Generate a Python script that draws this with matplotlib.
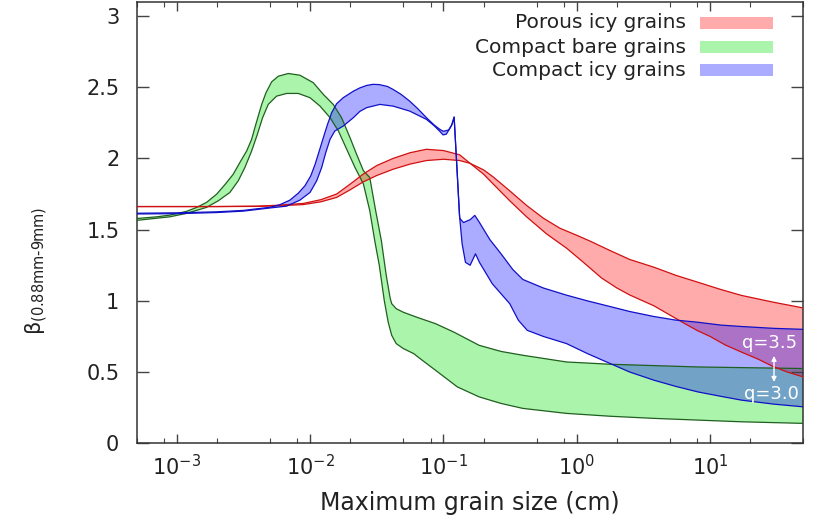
import numpy as np
import matplotlib
matplotlib.use("Agg")
import matplotlib.pyplot as plt
from matplotlib.ticker import LogLocator, NullFormatter
from matplotlib.patches import Rectangle

# ---------------- data ----------------
series_names = ["Porous icy grains", "Compact bare grains", "Compact icy grains"]

# Compact bare grains (green) - two bounding curves
green_a_x = [5e-4, 7.08e-4, 8.87e-4, 1.18e-3, 1.41e-3, 1.67e-3, 1.99e-3, 2.29e-3, 2.65e-3, 2.97e-3,
             3.34e-3, 3.64e-3, 3.85e-3, 4.08e-3, 4.33e-3, 4.66e-3, 5.14e-3, 5.77e-3, 6.86e-3,
             8.38e-3, 1.057e-2, 1.256e-2, 1.49e-2, 1.72e-2, 1.99e-2, 2.23e-2, 2.51e-2, 2.80e-2,
             3.10e-2, 3.42e-2, 3.72e-2, 3.98e-2, 4.09e-2, 4.42e-2, 5.0e-2, 6.31e-2, 8.71e-2,
             0.12, 0.185, 0.27, 0.394, 0.837, 1.778, 8.07, 50]
green_a_y = [1.578, 1.59, 1.602, 1.628, 1.656, 1.691, 1.749, 1.815, 1.889, 1.971,
             2.052, 2.134, 2.216, 2.297, 2.379, 2.46, 2.537, 2.577, 2.596,
             2.584, 2.531, 2.449, 2.379, 2.286, 2.146, 2.029, 1.913, 1.866,
             1.633, 1.423, 1.18, 1.02, 0.98, 0.945, 0.92, 0.885, 0.84,
             0.78, 0.688, 0.645, 0.618, 0.571, 0.555, 0.536, 0.525]
green_b_x = [5e-4, 8.87e-4, 1.18e-3, 1.67e-3, 2.05e-3, 2.5e-3, 2.89e-3, 3.24e-3, 3.64e-3, 4.02e-3,
             4.4e-3, 4.85e-3, 5.6e-3, 6.67e-3, 8.15e-3, 9.98e-3, 1.186e-2, 1.41e-2, 1.63e-2,
             1.88e-2, 2.17e-2, 2.51e-2, 2.80e-2, 3.05e-2, 3.3e-2, 3.6e-2, 3.85e-2, 4.09e-2,
             4.42e-2, 5.0e-2, 5.97e-2, 7.0e-2, 8.71e-2, 0.127, 0.185, 0.27, 0.394, 0.837,
             1.778, 3.79, 17.2, 50]
green_b_y = [1.565, 1.59, 1.614, 1.656, 1.703, 1.761, 1.843, 1.936, 2.052, 2.169,
             2.286, 2.379, 2.437, 2.456, 2.456, 2.426, 2.367, 2.286, 2.192,
             2.064, 1.936, 1.82, 1.633, 1.423, 1.25, 1.0, 0.85, 0.758,
             0.70, 0.665, 0.63, 0.58, 0.513, 0.396, 0.326, 0.28, 0.245, 0.21,
             0.19, 0.175, 0.151, 0.14]

# Porous icy grains (red)
red_a_x = [5e-4, 2e-3, 4e-3, 6e-3, 8.9e-3, 1.2e-2, 1.58e-2, 2e-2, 2.5e-2, 3.16e-2,
           4.19e-2, 5.62e-2, 7.45e-2, 0.1, 0.1324, 0.1585, 0.1995, 0.236, 0.316, 0.42,
           0.593, 0.837, 1.122, 1.535, 2.0, 2.51, 3.79, 5.0, 6.46, 8.07, 10, 13, 17.2,
           23, 29.5, 38, 50]
red_a_y = [1.662, 1.662, 1.665, 1.672, 1.684, 1.71, 1.75, 1.82, 1.89, 1.95,
           2.0, 2.04, 2.064, 2.055, 2.025, 1.965, 1.89, 1.82, 1.70, 1.59,
           1.47, 1.37, 1.27, 1.16, 1.09, 1.04, 0.965, 0.90, 0.84, 0.79, 0.75, 0.69, 0.64,
           0.59, 0.54, 0.50, 0.466]
red_b_x = [5e-4, 2e-3, 4e-3, 6e-3, 8.9e-3, 1.2e-2, 1.58e-2, 2e-2, 2.5e-2, 3.16e-2,
           4.19e-2, 5.62e-2, 7.45e-2, 0.1, 0.1324, 0.1585, 0.1995, 0.236, 0.316, 0.42,
           0.562, 0.746, 1.0, 1.253, 1.778, 2.5, 3.79, 5.5, 8.07, 12, 17.2, 30, 50]
red_b_y = [1.662, 1.662, 1.663, 1.668, 1.676, 1.695, 1.726, 1.78, 1.835, 1.88,
           1.924, 1.96, 1.985, 1.994, 1.985, 1.965, 1.92, 1.87, 1.77, 1.67,
           1.58, 1.51, 1.46, 1.42, 1.353, 1.29, 1.236, 1.18, 1.131, 1.08, 1.038, 0.99, 0.95]

# Compact icy grains (blue)
blue_a_x = [5e-4, 1e-3, 2e-3, 3.16e-3, 5e-3, 5.93e-3, 7.05e-3, 8.15e-3, 9.14e-3, 1.01e-2,
            1.09e-2, 1.17e-2, 1.256e-2, 1.35e-2, 1.45e-2, 1.58e-2, 1.77e-2, 2.11e-2, 2.36e-2,
            2.65e-2, 2.96e-2, 3.3e-2, 3.8e-2, 4.19e-2, 4.8e-2, 5.58e-2, 6.4e-2, 7.45e-2,
            8.5e-2, 9.38e-2, 0.1, 0.1096, 0.116, 0.1202, 0.1253, 0.1324, 0.1413, 0.1585,
            0.1718, 0.1862, 0.2228, 0.2704, 0.331, 0.394, 0.562, 0.837, 1.2, 1.778, 2.5,
            3.79, 5.5, 8.07, 12, 17.2, 30, 50]
blue_a_y = [1.615, 1.618, 1.625, 1.635, 1.657, 1.675, 1.707, 1.756, 1.808, 1.877,
            1.959, 2.052, 2.146, 2.239, 2.321, 2.384, 2.426, 2.472, 2.495,
            2.512, 2.52, 2.518, 2.505, 2.484, 2.45, 2.402, 2.35, 2.286,
            2.235, 2.204, 2.19, 2.20, 2.24, 2.29, 1.98, 1.58, 1.55, 1.57,
            1.60, 1.55, 1.43, 1.33, 1.22, 1.15, 1.09, 1.04, 1.0, 0.96, 0.925,
            0.89, 0.865, 0.85, 0.83, 0.82, 0.807, 0.80]
blue_b_x = [5e-4, 1e-3, 2e-3, 3.16e-3, 5e-3, 6.67e-3, 8.38e-3, 9.98e-3, 1.12e-2, 1.22e-2,
            1.31e-2, 1.41e-2, 1.53e-2, 1.77e-2, 2.11e-2, 2.36e-2, 2.65e-2, 3.33e-2, 4.19e-2,
            5.58e-2, 7.45e-2, 8.5e-2, 9.38e-2, 9.93e-2, 0.105, 0.1148, 0.1202, 0.1259, 0.1318,
            0.138, 0.1462, 0.1585, 0.1738, 0.1862, 0.2323, 0.314, 0.365, 0.425, 0.562, 0.837,
            1.2, 1.778, 2.5, 3.79, 5.5, 8.07, 12, 17.2, 30, 50]
blue_b_y = [1.61, 1.612, 1.62, 1.63, 1.652, 1.665, 1.707, 1.761, 1.843, 1.936,
            2.041, 2.134, 2.192, 2.227, 2.286, 2.33, 2.356, 2.379, 2.367,
            2.332, 2.274, 2.23, 2.19, 2.165, 2.17, 2.23, 2.29, 1.95, 1.60,
            1.40, 1.27, 1.25, 1.33, 1.27, 1.12, 0.98, 0.863, 0.793, 0.75, 0.70,
            0.63, 0.56, 0.50, 0.443, 0.40, 0.361, 0.33, 0.303, 0.275, 0.256]

y_ticks = [0, 0.5, 1, 1.5, 2, 2.5, 3]
y_tick_labels = ["0", "0.5", "1", "1.5", "2", "2.5", "3"]
x_label = "Maximum grain size (cm)"
y_label = r"$\mathregular{β}_{\mathregular{(0.88mm\text{-}9mm)}}$"
q_labels = ["q=3.5", "q=3.0"]

# ---------------- styling ----------------
fill_alpha = 0.33
styles = {
    "red": dict(fill="#ff0000", line="#d01010"),
    "green": dict(fill="#00e000", line="#1f5f1f"),
    "blue": dict(fill="#0000ff", line="#1010c8"),
}
text_color = "#222222"

fig = plt.figure(figsize=(8.15, 5.15), dpi=100)
ax = fig.add_axes([0.1677, 0.1392, 0.818, 0.8575])

bands = [
    ("green", green_a_x, green_a_y, green_b_x, green_b_y),
    ("red", red_a_x, red_a_y, red_b_x, red_b_y),
    ("blue", blue_a_x, blue_a_y, blue_b_x, blue_b_y),
]
for key, xa, ya, xb, yb in bands:
    px = np.concatenate([np.asarray(xa), np.asarray(xb)[::-1]])
    py = np.concatenate([np.asarray(ya), np.asarray(yb)[::-1]])
    ax.fill(px, py, color=styles[key]["fill"], alpha=fill_alpha, lw=0, zorder=1)
for key, xa, ya, xb, yb in bands:
    ax.plot(xa, ya, color=styles[key]["line"], lw=0.9, zorder=3)
    ax.plot(xb, yb, color=styles[key]["line"], lw=0.9, zorder=3)

ax.set_xscale("log")
ax.set_xlim(5e-4, 50)
ax.set_ylim(0, 3.1)
ax.xaxis.set_major_locator(LogLocator(base=10, numticks=20))
ax.xaxis.set_minor_locator(LogLocator(base=10, subs=[2, 5, 8], numticks=20))
ax.xaxis.set_minor_formatter(NullFormatter())
ax.set_yticks(y_ticks)
ax.set_yticklabels(y_tick_labels)

ax.tick_params(which="both", direction="in", top=True, right=True, colors="#444444",
               labelcolor=text_color)
ax.tick_params(axis="y", which="major", length=8.5, width=1, labelsize=15, pad=12.5)
ax.tick_params(axis="x", which="major", length=6.5, width=1, labelsize=15, pad=8)
ax.tick_params(axis="x", which="minor", length=3.5, width=0.8)
for s in ax.spines.values():
    s.set_color("#333333")
    s.set_linewidth(1.1)

ax.set_xlabel(x_label, fontsize=17, color=text_color)
ax.xaxis.set_label_coords(0.5, -0.108)
ax.xaxis.label.set_va("top")
fig.text(37 / 815, 1 - 271 / 515, y_label, rotation=90, ha="center", va="center",
         fontsize=15, color=text_color)

# legend (gnuplot style: text right-aligned, swatch on the right)
leg_y = [0.9518, 0.8974, 0.8453]
leg_keys = ["red", "green", "blue"]
for name, key, yy in zip(series_names, leg_keys, leg_y):
    ax.text(0.824, yy, name, transform=ax.transAxes, ha="right", va="center",
            fontsize=14.5, color=text_color)
    ax.add_patch(Rectangle((0.8449, yy - 0.0125), 0.1095, 0.025, transform=ax.transAxes,
                           facecolor=styles[key]["fill"], alpha=fill_alpha, lw=0, zorder=5))

# q annotations
ax.text(0.9906, 0.227, q_labels[0], transform=ax.transAxes, ha="right", va="center",
        fontsize=13, color="white", zorder=6)
ax.text(0.9935, 0.1116, q_labels[1], transform=ax.transAxes, ha="right", va="center",
        fontsize=13, color="white", zorder=6)
ax.annotate("", xy=(0.956, 0.198), xytext=(0.956, 0.139), xycoords="axes fraction",
            arrowprops=dict(arrowstyle="<|-|>", color="white", lw=1.0,
                            mutation_scale=7, shrinkA=0, shrinkB=0), zorder=6)

fig.savefig("out.png", dpi=100)
